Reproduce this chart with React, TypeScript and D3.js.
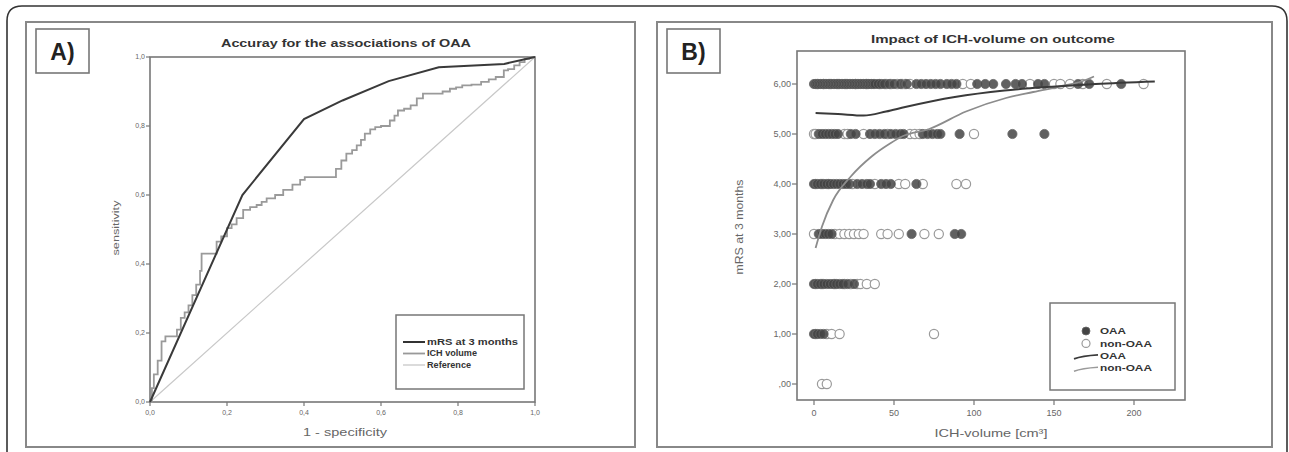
import React from "react";
import * as d3 from "d3";

// ---------- Panel A data (ROC) ----------
const rocTicks = [0, 0.2, 0.4, 0.6, 0.8, 1.0];
const rocTickLabels = ["0,0", "0,2", "0,4", "0,6", "0,8", "1,0"];
const mrsFpr = [0, 0.24, 0.4, 0.5, 0.62, 0.75, 0.92, 1];
const mrsTpr = [0, 0.6, 0.82, 0.874, 0.93, 0.97, 0.98, 1];
const ichFpr = [0, 0.005, 0.01, 0.02, 0.03, 0.04, 0.06, 0.07, 0.08, 0.09, 0.10, 0.11, 0.12, 0.13, 0.134, 0.165, 0.173, 0.185, 0.2, 0.212, 0.225, 0.242, 0.26, 0.277, 0.29, 0.303, 0.325, 0.346, 0.37, 0.39, 0.402, 0.461, 0.483, 0.497, 0.51, 0.525, 0.537, 0.548, 0.558, 0.572, 0.585, 0.6, 0.623, 0.635, 0.644, 0.66, 0.677, 0.693, 0.709, 0.741, 0.76, 0.779, 0.795, 0.811, 0.835, 0.86, 0.88, 0.898, 0.919, 0.93, 0.946, 0.96, 0.973, 0.985, 1];
const ichTpr = [0, 0.04, 0.08, 0.12, 0.176, 0.19, 0.19, 0.21, 0.244, 0.26, 0.28, 0.31, 0.34, 0.38, 0.43, 0.43, 0.465, 0.48, 0.504, 0.515, 0.533, 0.557, 0.565, 0.571, 0.58, 0.59, 0.6, 0.615, 0.63, 0.644, 0.652, 0.652, 0.676, 0.7, 0.72, 0.73, 0.744, 0.76, 0.778, 0.79, 0.797, 0.8, 0.816, 0.83, 0.845, 0.85, 0.86, 0.88, 0.894, 0.894, 0.9, 0.908, 0.912, 0.918, 0.92, 0.928, 0.935, 0.942, 0.961, 0.965, 0.976, 0.985, 0.995, 1, 1];
const refFpr = [0, 1];
const refTpr = [0, 1];
const rocLegend = ["mRS at 3 months", "ICH volume", "Reference"];

// ---------- Panel B data (scatter) ----------
const mrsLevels = [0, 1, 2, 3, 4, 5, 6];
const mrsTickLabels = [",00", "1,00", "2,00", "3,00", "4,00", "5,00", "6,00"];
const volTicks = [0, 50, 100, 150, 200];
const oaaVolumes: number[][] = [
  [],
  [0, 2, 4, 6],
  [0, 2, 4, 6, 8, 10, 12, 14, 16, 18, 21, 25],
  [3, 5, 7, 9, 11, 61, 88, 92],
  [0, 2, 4, 6, 8, 10, 12, 14, 16, 18, 20, 22, 27, 30, 33, 35, 42, 45, 48, 64],
  [3, 5, 7, 9, 11, 13, 15, 23, 26, 35, 38, 41, 44, 48, 51, 54, 56, 68, 71, 74, 77, 79, 91, 124, 144],
  [0, 1, 2, 3, 4, 5, 6, 7, 8, 9, 10, 11, 12, 13, 14, 15, 16, 17, 18, 19, 20, 21, 22, 23, 24, 25, 26, 27, 28, 29, 30, 31, 32, 33, 34, 35, 36, 37, 38, 40, 42, 44, 47, 50, 54, 58, 64, 67, 70, 73, 76, 79, 83, 86, 89, 102, 107, 112, 120, 126, 130, 140, 144, 165, 172, 192],
];
const nonOaaVolumes: number[][] = [
  [5, 8],
  [1, 8, 11, 16, 75],
  [1, 5, 13, 19, 23, 27, 29, 33, 38],
  [0, 13, 16, 19, 22, 25, 28, 31, 42, 46, 53, 69, 78],
  [1, 5, 9, 24, 38, 53, 57, 68, 89, 95],
  [0, 1, 19, 21, 31, 46, 60, 63, 66, 100],
  [2, 6, 10, 15, 20, 26, 33, 41, 45, 48, 52, 55, 57, 60, 93, 98, 135, 150, 154, 160, 168, 183, 206],
];
const oaaFitVol = [1, 15, 31, 45, 57, 88, 119, 151, 176, 213];
const oaaFitMrs = [5.42, 5.4, 5.37, 5.45, 5.54, 5.74, 5.87, 5.95, 6.0, 6.05];
const nonFitVol = [1, 5, 12, 23, 36, 48, 55, 72, 95, 120, 137, 158, 168, 175];
const nonFitMrs = [2.72, 3.15, 3.68, 4.15, 4.55, 4.82, 4.95, 5.1, 5.45, 5.72, 5.84, 5.98, 6.06, 6.15];
const scatterLegend = ["OAA", "non-OAA", "OAA", "non-OAA"];

const FONT = "'Liberation Sans', Arial, sans-serif";

export default function App() {
  // Panel A scales
  const xA = d3.scaleLinear().domain([0, 1]).range([150, 535]);
  const yA = d3.scaleLinear().domain([0, 1]).range([402, 57]);
  const lineA = (xs: number[], ys: number[], curve: d3.CurveFactory) =>
    d3
      .line<number>()
      .x((_, i) => xA(xs[i]))
      .y((_, i) => yA(ys[i]))
      .curve(curve)(xs) as string;

  // Panel B scales
  const xB = d3.scaleLinear().domain([0, 200]).range([814, 1134]);
  const yB = d3.scaleLinear().domain([0, 6]).range([384, 84]);
  const lineB = (xs: number[], ys: number[]) =>
    d3
      .line<number>()
      .x((_, i) => xB(xs[i]))
      .y((_, i) => yB(ys[i]))
      .curve(d3.curveMonotoneX)(xs) as string;

  const plotA = { x0: 150, x1: 535, y0: 57, y1: 402 };
  const plotB = { x0: 797, x1: 1185, y0: 51, y1: 400 };

  return (
    <svg
      width={1289}
      height={452}
      style={{ position: "absolute", left: 0, top: 0, background: "#fff" }}
      fontFamily={FONT}
    >
      <rect x={0} y={0} width={1289} height={452} fill="#fff" />
      {/* outer rounded frame */}
      <path d="M7,460 V21 Q7,6 22,6 H1272 Q1287,6 1287,21 V460" fill="none" stroke="#333" strokeWidth={1.6} />

      {/* ===================== Panel A ===================== */}
      <rect x={26} y={22} width={609} height={425} fill="none" stroke="#888" strokeWidth={2} />
      <rect x={36} y={29} width={53} height={44} fill="none" stroke="#777" strokeWidth={1.6} />
      <text x={62.5} y={60} textAnchor="middle" fontSize={23} fontWeight="bold" fill="#222">A)</text>
      <text x={346} y={47} textAnchor="middle" fontSize={11} fontWeight="bold" fill="#333" textLength={250} lengthAdjust="spacingAndGlyphs">
        Accuray for the associations of OAA
      </text>
      <rect x={plotA.x0} y={plotA.y0} width={plotA.x1 - plotA.x0} height={plotA.y1 - plotA.y0} fill="none" stroke="#777" strokeWidth={1.6} />
      {rocTicks.map((t, i) => (
        <g key={"ay" + i}>
          <line x1={plotA.x0 - 4} x2={plotA.x0} y1={yA(t)} y2={yA(t)} stroke="#777" strokeWidth={1.2} />
          <text x={plotA.x0 - 5} y={yA(t)} dy="0.35em" textAnchor="end" fontSize={7} fill="#666">{rocTickLabels[i]}</text>
          <line x1={xA(t)} x2={xA(t)} y1={plotA.y1} y2={plotA.y1 + 4} stroke="#777" strokeWidth={1.2} />
          <text x={xA(t)} y={plotA.y1 + 13} textAnchor="middle" fontSize={7} fill="#666">{rocTickLabels[i]}</text>
        </g>
      ))}
      <text x={345} y={436} textAnchor="middle" fontSize={11} fill="#666" textLength={84} lengthAdjust="spacingAndGlyphs">1 - specificity</text>
      <text transform="translate(119,228) rotate(-90)" textAnchor="middle" fontSize={9.5} fill="#666" textLength={55} lengthAdjust="spacingAndGlyphs">sensitivity</text>
      <path d={lineA(refFpr, refTpr, d3.curveLinear)} fill="none" stroke="#c8c8c8" strokeWidth={1.2} />
      <path d={lineA(ichFpr, ichTpr, d3.curveStepAfter)} fill="none" stroke="#9a9a9a" strokeWidth={1.8} />
      <path d={lineA(mrsFpr, mrsTpr, d3.curveLinear)} fill="none" stroke="#3a3a3a" strokeWidth={2} />
      {/* legend A */}
      <rect x={396} y={315} width={128} height={74} fill="#fff" stroke="#777" strokeWidth={1.5} />
      {rocLegend.map((name, i) => {
        const y = 342 + i * 11.5;
        const stroke = i === 0 ? "#333" : i === 1 ? "#999" : "#c8c8c8";
        const w = i === 0 ? 2 : i === 1 ? 1.8 : 1.3;
        const len = [91, 50, 44][i];
        return (
          <g key={"la" + i}>
            <line x1={403} x2={425} y1={y} y2={y} stroke={stroke} strokeWidth={w} />
            <text x={427} y={y} dy="0.35em" fontSize={8.5} fontWeight="bold" fill="#333" textLength={len} lengthAdjust="spacingAndGlyphs">{name}</text>
          </g>
        );
      })}

      {/* ===================== Panel B ===================== */}
      <rect x={657} y={22} width={615} height={425} fill="none" stroke="#888" strokeWidth={2} />
      <rect x={667} y={29} width={53} height={44} fill="none" stroke="#777" strokeWidth={1.6} />
      <text x={693.5} y={60} textAnchor="middle" fontSize={23} fontWeight="bold" fill="#222">B)</text>
      <text x={993} y={43} textAnchor="middle" fontSize={11} fontWeight="bold" fill="#333" textLength={244} lengthAdjust="spacingAndGlyphs">
        Impact of ICH-volume on outcome
      </text>
      <rect x={plotB.x0} y={plotB.y0} width={plotB.x1 - plotB.x0} height={plotB.y1 - plotB.y0} fill="none" stroke="#777" strokeWidth={1.6} />
      {mrsLevels.map((m, i) => (
        <g key={"by" + i}>
          <line x1={plotB.x0 - 5} x2={plotB.x0} y1={yB(m)} y2={yB(m)} stroke="#777" strokeWidth={1.2} />
          <text x={plotB.x0 - 6} y={yB(m)} dy="0.35em" textAnchor="end" fontSize={9} fill="#666">{mrsTickLabels[i]}</text>
        </g>
      ))}
      {volTicks.map((v) => (
        <g key={"bx" + v}>
          <line x1={xB(v)} x2={xB(v)} y1={plotB.y1} y2={plotB.y1 + 5} stroke="#777" strokeWidth={1.2} />
          <text x={xB(v)} y={plotB.y1 + 16} textAnchor="middle" fontSize={9} fill="#666">{String(v)}</text>
        </g>
      ))}
      <text x={991} y={437} textAnchor="middle" fontSize={11.5} fill="#666" textLength={113} lengthAdjust="spacingAndGlyphs">ICH-volume [cm³]</text>
      <text transform="translate(743,227) rotate(-90)" textAnchor="middle" fontSize={11} fill="#666" textLength={95} lengthAdjust="spacingAndGlyphs">mRS at 3 months</text>
      {/* points */}
      {nonOaaVolumes.map((vals, li) =>
        vals.map((v, j) => (
          <circle key={"n" + li + "-" + j} cx={xB(v)} cy={yB(mrsLevels[li])} r={4.6} fill="#fff" stroke="#9a9a9a" strokeWidth={1.2} />
        ))
      )}
      {oaaVolumes.map((vals, li) =>
        vals.map((v, j) => (
          <circle key={"o" + li + "-" + j} cx={xB(v)} cy={yB(mrsLevels[li])} r={4.6} fill="#444" fillOpacity={0.85} stroke="#666" strokeWidth={0.8} />
        ))
      )}
      <path d={lineB(nonFitVol, nonFitMrs)} fill="none" stroke="#8c8c8c" strokeWidth={1.8} />
      <path d={lineB(oaaFitVol, oaaFitMrs)} fill="none" stroke="#3a3a3a" strokeWidth={2} />
      {/* legend B */}
      <rect x={1050} y={303} width={125} height={87} fill="#fff" stroke="#777" strokeWidth={1.5} />
      {scatterLegend.map((name, i) => {
        const y = 331 + i * 12.4;
        const len = name === "OAA" ? 26 : 52;
        return (
          <g key={"lb" + i}>
            {i === 0 && <circle cx={1086} cy={y} r={4} fill="#444" stroke="#666" strokeWidth={0.8} />}
            {i === 1 && <circle cx={1086} cy={y} r={4} fill="#fff" stroke="#9a9a9a" strokeWidth={1.2} />}
            {i === 2 && <path d={`M1074,${y + 3} Q1082,${y} 1098,${y - 1}`} fill="none" stroke="#3a3a3a" strokeWidth={1.8} />}
            {i === 3 && <path d={`M1074,${y + 3} Q1082,${y} 1098,${y - 1}`} fill="none" stroke="#9a9a9a" strokeWidth={1.5} />}
            <text x={1100} y={y} dy="0.35em" fontSize={9} fontWeight="bold" fill="#333" textLength={len} lengthAdjust="spacingAndGlyphs">{name}</text>
          </g>
        );
      })}
    </svg>
  );
}
